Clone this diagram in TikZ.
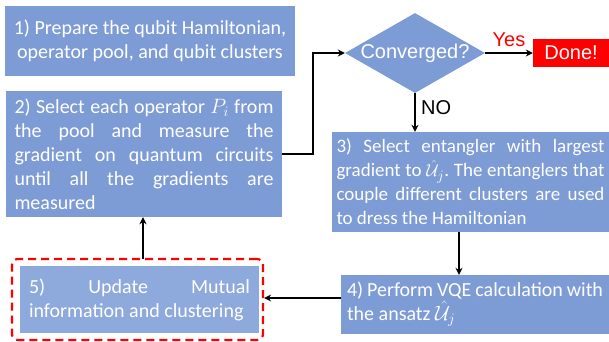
\documentclass[tikz,border=0pt]{standalone}
\usepackage{fontspec}
\setmainfont{Carlito}
\newfontfamily\arialfont{Liberation Sans}
\usetikzlibrary{shapes.geometric,arrows.meta}
\definecolor{boxblue}{HTML}{7D9CD5}
\definecolor{boxblueL}{HTML}{8EA9DC}
\definecolor{donered}{HTML}{FF0000}
\hyphenpenalty=10000
\exhyphenpenalty=10000
\tolerance=10000
\frenchspacing
\tikzset{
  box/.style={fill=boxblue, draw=none, text=white, inner sep=0pt, font=\fontsize{20}{24}\selectfont},
  jtext/.style={align=justify},
  arr/.style={line width=1.6pt, -{Stealth[length=7pt,width=7pt]}},
  lbl/.style={font=\arialfont\fontsize{20}{24}\selectfont, inner sep=0pt},
}
\begin{document}
\begin{tikzpicture}[x=1pt,y=-1pt]
\useasboundingbox (0,0) rectangle (609,341);
% boxes
\node[box, minimum width=290pt, minimum height=70pt, align=center] (b1) at (150,41)
  {1) Prepare the qubit Hamiltonian,\\operator pool, and qubit clusters};
\node[box, minimum width=276pt, minimum height=126pt, text width=259pt, jtext] (b2) at (144,154)
  {2) Select each operator $P_i$ from\linebreak the pool and measure the\linebreak gradient on quantum circuits\linebreak until all the gradients are\linebreak measured};
\node[diamond, fill=boxblue, minimum width=140pt, minimum height=80pt, inner sep=0pt] (dia) at (415,53) {};
\node[lbl, text=white] (diat) at (dia.center) {Converged?};
\node[fill=donered, minimum width=76pt, minimum height=28pt, inner sep=0pt, text=white, font=\arialfont\fontsize{20}{24}\selectfont] (done) at (571,53) {Done!};
\node[box, minimum width=277pt, minimum height=100pt, text width=268pt, jtext, font=\fontsize{19}{24}\selectfont] (b3) at (470.5,182)
  {3) Select entangler with largest\linebreak gradient to~$\hat{\mathcal{U}}_j$. The entanglers that\linebreak couple different clusters are used\linebreak to dress the Hamiltonian};
\node[box, minimum width=268pt, minimum height=59pt, text width=256pt, jtext] (b4) at (475,304.5)
  {4) Perform VQE calculation with\linebreak the ansatz $\hat{\mathcal{U}}_j$};
\node[box, fill=boxblueL, minimum width=239pt, minimum height=67pt, text width=221pt, jtext] (b5) at (139.5,299.5)
  {5) Update Mutual\linebreak information and clustering};
\node[draw=red, dashed, dash pattern=on 8pt off 5pt, line width=2.2pt, rounded corners=6pt, minimum width=251pt, minimum height=81pt, inner sep=0pt] (dash) at (137.5,299.5) {};
% connectors
\coordinate (c1) at (313,154);
\coordinate (c2) at (313,53);
\draw[arr] (b2.east |- c1) -- (c1) -- (c2) -- (dia.west);
\draw[arr] (dia.east) -- (done.west);
\node[lbl, text=red, anchor=south] (yes) at (509,47) {Yes};
\draw[arr] (dia.south) -- (b3.north -| dia.south);
\node[lbl, anchor=west] (no) at (421,108) {NO};
\coordinate (c3) at (459,232);
\draw[arr] (c3) -- (c3 |- b4.north);
\coordinate (c4) at (341,298);
\draw[arr] (c4) -- (c4 -| dash.east);
\coordinate (c5) at (143,259);
\draw[arr] (c5) -- (c5 |- b2.south);
\end{tikzpicture}
\end{document}
